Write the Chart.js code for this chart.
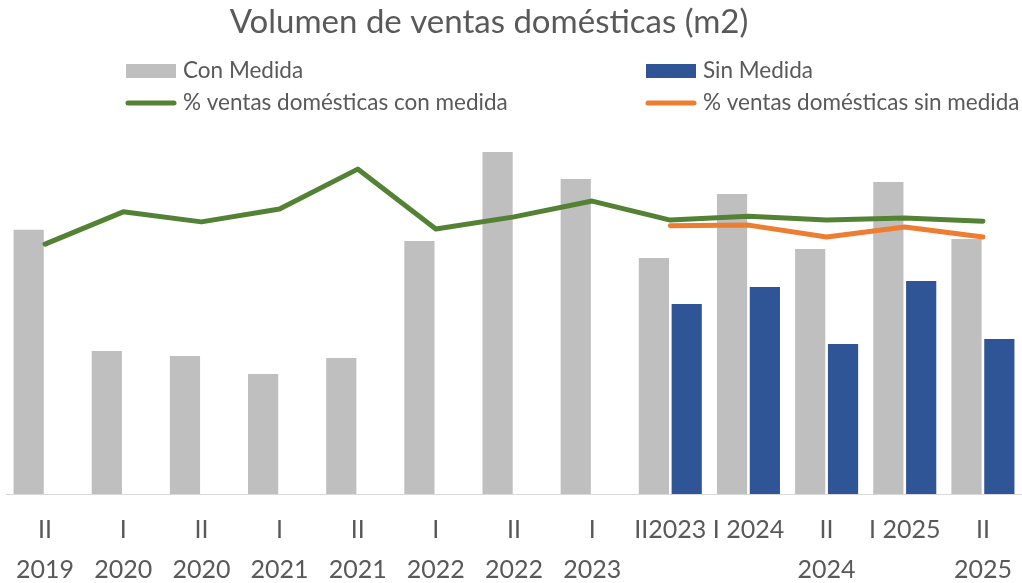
<!DOCTYPE html>
<html lang="es">
<head>
<meta charset="utf-8">
<title>Volumen de ventas domésticas (m2)</title>
<script src="https://cdn.jsdelivr.net/npm/chart.js@4.4.1/dist/chart.umd.min.js"></script>
<style>
    html, body { margin: 0; padding: 0; background: #fff; }
    .wrap { position: relative; width: 1022px; height: 583px; }
</style>
</head>
<body>
<div class="wrap">
    <canvas id="ventasChart"></canvas>
</div>
<script>
// ===== DATA =====
const periodos = [
    ['II', '2019'], ['I', '2020'], ['II', '2020'], ['I', '2021'], ['II', '2021'],
    ['I', '2022'], ['II', '2022'], ['I', '2023'], 'II2023', 'I 2024',
    ['II', '2024'], 'I 2025', ['II', '2025']
];
// miles de m2
const conMedida = [883, 478, 461, 401, 455, 846, 1143, 1053, 789, 1003, 819, 1043, 852];
const sinMedida = [null, null, null, null, null, null, null, null, 635, 692, 501, 712, 518];
// %
const pctConMedida = [69.6, 78.6, 75.8, 79.4, 90.5, 73.8, 77.2, 81.6, 76.3, 77.4, 76.3, 76.9, 76.0];
const pctSinMedida = [null, null, null, null, null, null, null, null, 74.7, 74.9, 71.6, 74.4, 71.6];

const TEXT = '#595959';
const FONT = 'Lato, "Liberation Sans", sans-serif';

// ===== TITLE + LEGEND (two columns like the original) =====
const headerPlugin = {
    id: 'header',
    afterDraw(chart) {
        const ctx = chart.ctx;
        ctx.save();
        ctx.fillStyle = TEXT;
        ctx.textBaseline = 'middle';
        ctx.textAlign = 'center';
        ctx.font = '33px ' + FONT;
        ctx.fillText('Volumen de ventas domésticas (m2)', 489, 22);

        const ds = chart.data.datasets;
        const items = [
            { d: ds[2], x: 126, y: 71 },
            { d: ds[3], x: 646, y: 71 },
            { d: ds[0], x: 126, y: 103 },
            { d: ds[1], x: 646, y: 103 }
        ];
        ctx.font = '22.5px ' + FONT;
        ctx.textAlign = 'left';
        items.forEach(it => {
            if (it.d.type === 'bar') {
                ctx.fillStyle = it.d.backgroundColor;
                ctx.fillRect(it.x, it.y - 7, 50, 14);
            } else {
                ctx.strokeStyle = it.d.borderColor;
                ctx.lineWidth = 5;
                ctx.lineCap = 'round';
                ctx.beginPath();
                ctx.moveTo(it.x + 2, it.y);
                ctx.lineTo(it.x + 48, it.y);
                ctx.stroke();
            }
            ctx.fillStyle = TEXT;
            ctx.fillText(it.d.label, it.x + 57, it.y);
        });
        ctx.restore();
    }
};

new Chart(document.getElementById('ventasChart'), {
    type: 'bar',
    data: {
        labels: periodos,
        datasets: [
            {
                type: 'line',
                label: '% ventas domésticas con medida',
                data: pctConMedida,
                yAxisID: 'yPct',
                borderColor: '#548235',
                borderWidth: 5,
                borderCapStyle: 'round',
                borderJoinStyle: 'round',
                pointRadius: 0,
                tension: 0,
                order: 0
            },
            {
                type: 'line',
                label: '% ventas domésticas sin medida',
                data: pctSinMedida,
                yAxisID: 'yPct',
                borderColor: '#ED7D31',
                borderWidth: 5,
                borderCapStyle: 'round',
                borderJoinStyle: 'round',
                pointRadius: 0,
                tension: 0,
                order: 0
            },
            {
                type: 'bar',
                label: 'Con Medida',
                data: conMedida,
                yAxisID: 'yVol',
                backgroundColor: '#BFBFBF',
                categoryPercentage: 0.84,
                barPercentage: 0.92,
                order: 1
            },
            {
                type: 'bar',
                label: 'Sin Medida',
                data: sinMedida,
                yAxisID: 'yVol',
                backgroundColor: '#2F5597',
                categoryPercentage: 0.84,
                barPercentage: 0.92,
                order: 1
            }
        ]
    },
    options: {
        responsive: true,
        maintainAspectRatio: false,
        animation: false,
        layout: {
            padding: { top: 135, left: 6, right: -1, bottom: 0 }
        },
        plugins: {
            legend: { display: false },
            title: { display: false },
            tooltip: { enabled: false }
        },
        scales: {
            x: {
                grid: { display: false, drawTicks: false },
                border: { display: true, color: '#D9D9D9', width: 1 },
                ticks: {
                    color: TEXT,
                    font: { family: FONT, size: 25, lineHeight: 40 / 25 },
                    padding: 16,
                    autoSkip: false,
                    maxRotation: 0
                },
                afterFit(scale) {
                    scale.height = 89;
                    scale.paddingLeft = 0;
                    scale.paddingRight = 0;
                }
            },
            yVol: {
                display: false,
                min: 0,
                max: 1200
            },
            yPct: {
                display: false,
                min: 0,
                max: 100
            }
        }
    },
    plugins: [headerPlugin]
});
</script>
</body>
</html>
